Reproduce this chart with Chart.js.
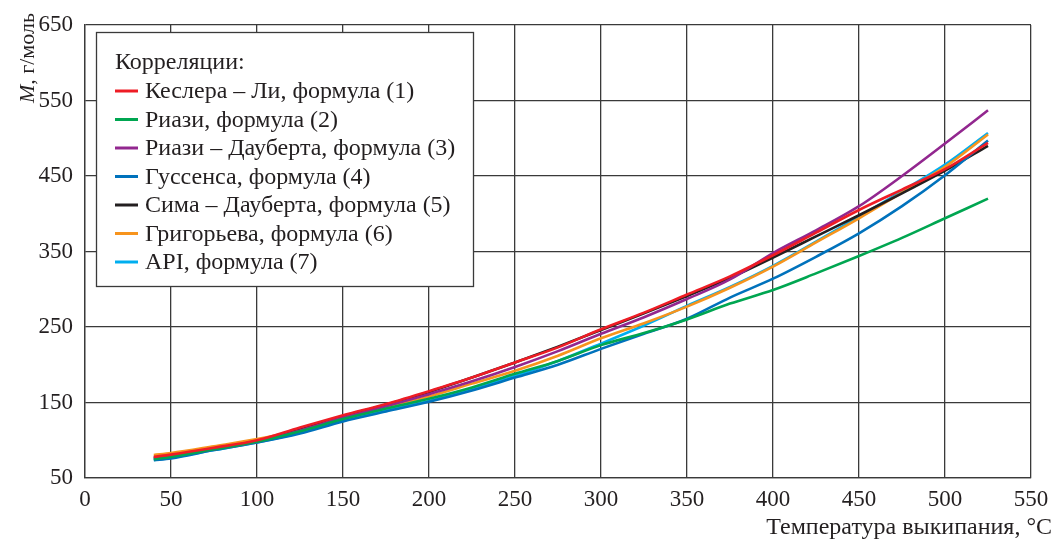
<!DOCTYPE html>
<html>
<head>
<meta charset="utf-8">
<script src="https://cdn.jsdelivr.net/npm/chart.js@4/dist/chart.umd.min.js"></script>
<style>
  html, body { margin: 0; padding: 0; background: #fff; }
  #wrap { width: 1054px; height: 543px; }
</style>
</head>
<body>
<div id="wrap"><canvas id="chart"></canvas></div>
<script>
// Boiling temperature, °C (x) and molar mass M, g/mol (y) per correlation.
const TEMPS = [40, 50, 75, 100, 125, 150, 175, 200, 225, 250, 275, 300, 325, 350, 375, 400, 425, 450, 475, 500, 525];

const KESLER_LI   = [78, 81, 90, 100, 117, 133, 148, 165, 183, 203, 223, 247, 269, 293, 317, 345, 375, 405, 432, 459, 494];
const RIAZI       = [75, 78, 88, 98, 112, 128, 142, 155, 170, 188, 205, 226, 242, 260, 281, 299, 321, 344, 368, 394, 420];
const RIAZI_DAUB  = [76, 79, 88, 98, 113, 130, 145, 161, 178, 197, 218, 241, 263, 287, 313, 348, 378, 410, 450, 493, 537];
const GOOSSENS    = [73.5, 76, 87, 97, 109, 125, 138, 151, 166, 183, 200, 221, 241, 261, 289, 314, 343, 374, 410, 451, 497];
const SIM_DAUB    = [77, 79.5, 89, 99, 114, 132, 147, 164, 183, 203, 224, 246, 268, 291, 315, 342, 370, 398, 427, 457, 490];
const GRIGORIEV   = [80.5, 83, 92, 101.5, 114, 129, 143, 158, 175, 192, 212, 235, 255, 277, 302, 330, 362, 394, 428, 462, 505];
const API         = [74, 77, 87, 97, 110, 126, 140, 152, 168, 185, 205, 228, 252, 278, 303, 331, 363, 396, 430, 465, 507];

const LABELS = [
  "Кеслера – Ли, формула (1)",
  "Риази, формула (2)",
  "Риази – Дауберта, формула (3)",
  "Гуссенса, формула (4)",
  "Сима – Дауберта, формула (5)",
  "Григорьева, формула (6)",
  "API, формула (7)",
];
const SERIES = [KESLER_LI, RIAZI, RIAZI_DAUB, GOOSSENS, SIM_DAUB, GRIGORIEV, API];
const COLORS = ["#ee1c25", "#00a651", "#92278f", "#0072bc", "#231f20", "#f7941d", "#00aeef"];

const X_TICKS = { min: 0, max: 550, step: 50 };
const Y_TICKS = { min: 50, max: 650, step: 100 };

const SERIF = '"Liberation Serif", "DejaVu Serif", serif';
const GRID = "#3a3a3a";

// legend box, axis titles (italic M) drawn by hand
const decor = {
  id: "decor",
  afterDraw(chart) {
    const ctx = chart.ctx;
    ctx.save();
    ctx.fillStyle = "#fff";
    ctx.fillRect(96, 32, 377, 254);
    ctx.strokeStyle = GRID;
    ctx.lineWidth = 1.3;
    ctx.strokeRect(96.5, 32.5, 377, 254);

    ctx.font = "24px " + SERIF;
    ctx.fillStyle = "#231f20";
    ctx.textBaseline = "middle";
    ctx.textAlign = "left";
    ctx.fillText("Корреляции:", 115, 63);
    chart.data.datasets.forEach((ds, i) => {
      const y = 91 + i * 28.5;
      ctx.strokeStyle = ds.borderColor;
      ctx.lineWidth = 3;
      ctx.beginPath();
      ctx.moveTo(115, y);
      ctx.lineTo(138, y);
      ctx.stroke();
      ctx.fillStyle = "#231f20";
      ctx.fillText(ds.label, 145, y + 1);
    });

    // y title, reads bottom to top, ending near the top of the axis
    ctx.save();
    ctx.translate(28, 13);
    ctx.rotate(-Math.PI / 2);
    ctx.textAlign = "right";
    ctx.font = "22px " + SERIF;
    const rest = ", г/моль";
    ctx.fillText(rest, 0, 0);
    const w = ctx.measureText(rest).width;
    ctx.font = "italic 22px " + SERIF;
    ctx.fillText("M", -w, 0);
    ctx.restore();

    // x title
    ctx.font = "24px " + SERIF;
    ctx.textAlign = "right";
    ctx.fillText("Температура выкипания, °C", 1052, 528);
    ctx.restore();
  },
};

new Chart(document.getElementById("chart"), {
  type: "line",
  data: {
    datasets: SERIES.map((s, i) => ({
      label: LABELS[i],
      data: TEMPS.map((t, j) => ({ x: t, y: s[j] })),
      borderColor: COLORS[i],
      borderWidth: 2.6,
      pointRadius: 0,
      cubicInterpolationMode: "monotone",
      fill: false,
    })),
  },
  options: {
    responsive: true, maintainAspectRatio: false, animation: false,
    layout: { padding: { top: 25, right: 23, left: 0, bottom: 0 } },
    plugins: { legend: { display: false }, tooltip: { enabled: false } },
    scales: {
      x: {
        type: "linear", min: X_TICKS.min, max: X_TICKS.max,
        afterFit: s => { s.height = 65; s.paddingRight = 0; s.paddingLeft = 0; },
        ticks: { stepSize: X_TICKS.step, color: "#231f20", padding: 8, font: { family: SERIF, size: 23 } },
        grid: { color: GRID, lineWidth: 1.3, drawTicks: false },
        border: { color: GRID, width: 1.3 },
      },
      y: {
        min: Y_TICKS.min, max: Y_TICKS.max,
        afterFit: s => { s.width = 85; s.paddingTop = 0; s.paddingBottom = 0; },
        ticks: { stepSize: Y_TICKS.step, color: "#231f20", padding: 12, font: { family: SERIF, size: 23 } },
        grid: { color: GRID, lineWidth: 1.3, drawTicks: false },
        border: { color: GRID, width: 1.3 },
      },
    },
  },
  plugins: [decor],
});
</script>
</body>
</html>
